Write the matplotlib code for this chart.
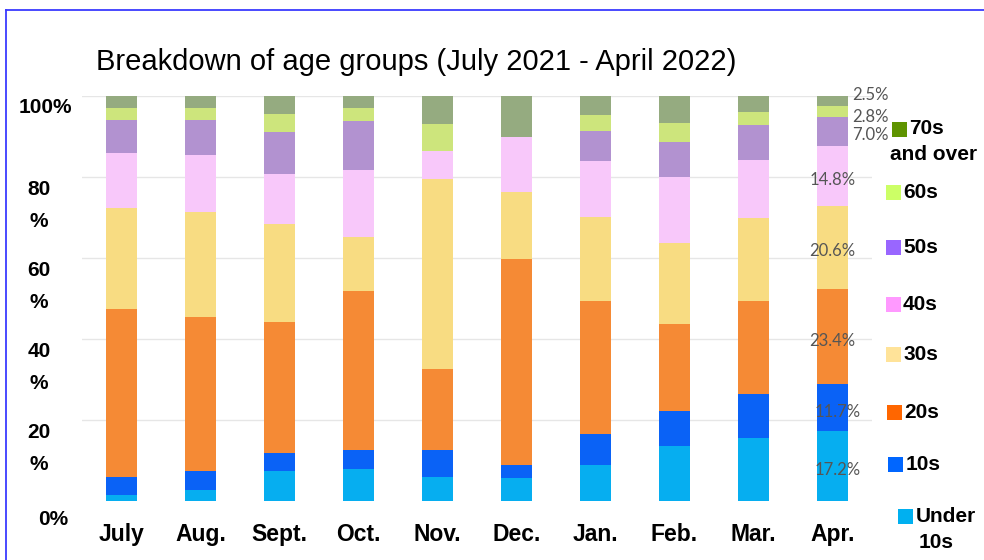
import matplotlib
matplotlib.use("Agg")
import matplotlib.pyplot as plt
from matplotlib.patches import Rectangle
from matplotlib.lines import Line2D

# ---- data -------------------------------------------------------------
months = ["July", "Aug.", "Sept.", "Oct.", "Nov.", "Dec.", "Jan.", "Feb.", "Mar.", "Apr."]
groups = ["Under 10s", "10s", "20s", "30s", "40s", "50s", "60s", "70s and over"]

under10 = [1.5, 2.7, 7.4, 8.0, 5.9, 5.8, 9.0, 13.7, 15.6, 17.2]
teens   = [4.5, 4.7, 4.4, 4.7, 6.6, 3.2, 7.6, 8.6, 10.7, 11.7]
twenties = [41.5, 38.0, 32.4, 39.2, 20.1, 50.7, 32.9, 21.3, 23.2, 23.4]
thirties = [24.8, 26.0, 24.2, 13.2, 47.0, 16.5, 20.6, 20.1, 20.4, 20.6]
forties = [13.6, 14.0, 12.3, 16.7, 6.8, 13.6, 13.9, 16.2, 14.4, 14.8]
fifties = [8.2, 8.6, 10.5, 12.1, 0.0, 0.0, 7.4, 8.7, 8.5, 7.0]
sixties = [2.9, 3.1, 4.3, 3.2, 6.8, 0.0, 4.0, 4.7, 3.2, 2.8]
seventies = [3.0, 2.9, 4.5, 2.9, 6.8, 10.2, 4.6, 6.7, 4.0, 2.5]

series = [under10, teens, twenties, thirties, forties, fifties, sixties, seventies]

y_ticks = [0, 20, 40, 60, 80, 100]
y_tick_labels = ["0%", "20\n%", "40\n%", "60\n%", "80\n%", "100%"]

# ---- style ------------------------------------------------------------
bar_colors = ["#06aef0", "#0a62f6", "#f58a35", "#f8dc82",
              "#f8c8fa", "#b292d0", "#cde57c", "#95ab80"]
legend_colors = ["#00b0f0", "#0066ff", "#ff6600", "#ffe399",
                 "#ff99ff", "#9966ff", "#ccff66", "#5f9400"]

W, H = 984, 560
fig = plt.figure(figsize=(W / 100, H / 100), dpi=100)
fig.patch.set_facecolor("white")

ax_left, ax_right, ax_top, ax_bottom = 82, 872, 96, 501
ax = fig.add_axes([ax_left / W, (H - ax_bottom) / H,
                   (ax_right - ax_left) / W, (ax_bottom - ax_top) / H])
ax.set_xlim(-0.5, len(months) - 0.5)
ax.set_ylim(0, 100)

for yv in y_ticks[1:]:
    ax.axhline(yv, color="#e6e6e6", lw=1.0, zorder=0)

x = list(range(len(months)))
bottom = [0.0] * len(months)
for vals, col in zip(series, bar_colors):
    ax.bar(x, vals, bottom=bottom, width=0.39, color=col, zorder=2, linewidth=0)
    bottom = [b + v for b, v in zip(bottom, vals)]

for s in ax.spines.values():
    s.set_visible(False)
ax.set_yticks([])
ax.set_xticks(x)
ax.set_xticklabels(months, fontsize=16.5, fontweight="bold",
                   family="Liberation Sans", color="black")
ax.tick_params(axis="x", length=0, pad=15.5)

# y labels, hung just below their gridlines
ylab_x = [53, 39, 39, 39, 39, 45]
ylab_drop = [9, 3, 3, 3, 3, 2]
ytrans = ax.get_yaxis_transform()
for yv, lab, xp, dp in zip(y_ticks, y_tick_labels, ylab_x, ylab_drop):
    ax.annotate(lab, xy=((xp - ax_left) / (ax_right - ax_left), yv),
                xycoords=ytrans, xytext=(0, -dp * 0.72), textcoords="offset points",
                ha="center", va="top", fontsize=15, fontweight="bold",
                family="Liberation Sans", linespacing=1.85, annotation_clip=False)

# value labels on the last bar
last = len(months) - 1
cum = 0.0
small_offsets = {5: (4, -3), 6: (4, -5), 7: (4, 6)}
for gi, vals in enumerate(series):
    v = vals[last]
    mid = cum + v / 2
    cum += v
    txt = f"{v:.1f}%"
    if gi in small_offsets:
        dx, dy = small_offsets[gi]
        ax.annotate(txt, xy=(last + 0.195, mid), xytext=(dx * 0.72, dy * 0.72),
                    textcoords="offset points", ha="left", va="center",
                    fontsize=12, family="Lato", color="#555555", zorder=5,
                    annotation_clip=False)
    else:
        dx = 5 if gi < 2 else 0
        ax.annotate(txt, xy=(last, mid), xytext=(dx * 0.72, -4 * 0.72),
                    textcoords="offset points", ha="center", va="center",
                    fontsize=12, family="Lato", color="#555555", zorder=5,
                    annotation_clip=False)

# ---- overlay in pixel coordinates: title, legend, frame ---------------
ov = fig.add_axes([0, 0, 1, 1], facecolor="none")
ov.set_xlim(0, W)
ov.set_ylim(H, 0)
ov.axis("off")

ov.text(96, 70, "Breakdown of age groups (July 2021 - April 2022)",
        fontsize=21, family="Liberation Sans", va="baseline", ha="left")

# frame lines along the top and left edge
ov.add_line(Line2D([5.7, 5.7], [10, H + 5], color="#3a3aff", lw=1.3))
ov.add_line(Line2D([5.7, W + 5], [10, 10], color="#3a3aff", lw=1.3))

# legend entries, top to bottom (70s and over first)
legend_layout = [  # (square x, square centre y, text x, second-line x, second-line y, align)
    (892, 129, 909, 890, 155, "left"),
    (886, 192.5, 903, None, None, None),
    (886, 247.5, 903, None, None, None),
    (886, 304, 903, None, None, None),
    (886, 354, 904, None, None, None),
    (887, 412.5, 904, None, None, None),
    (888, 464, 906, None, None, None),
    (898, 516.5, 916, 936, 543, "center"),
]
for gi, (sx, sy, tx, x2, y2, ha2) in zip(range(len(groups) - 1, -1, -1), legend_layout):
    ov.add_patch(Rectangle((sx, sy - 7.5), 15, 15, color=legend_colors[gi], lw=0))
    parts = groups[gi].split(" ", 1)
    if gi == len(groups) - 1:
        first, second = "70s", "and over"
    elif x2 is not None:
        first, second = parts[0], parts[1]
    else:
        first, second = groups[gi], None
    ov.text(tx, sy, first, fontsize=15, fontweight="bold",
            family="Liberation Sans", va="center", ha="left")
    if second is not None:
        ov.text(x2, y2, second, fontsize=15, fontweight="bold",
                family="Liberation Sans", va="center", ha=ha2)

fig.savefig("out.png", dpi=100, facecolor="white")
